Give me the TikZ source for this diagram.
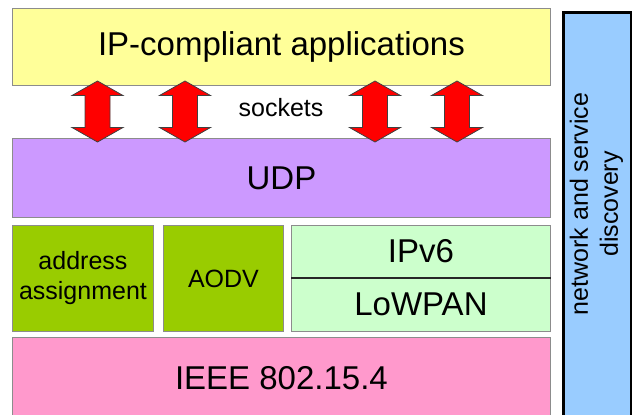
\documentclass[tikz,border=0pt]{standalone}
\usepackage{fontspec}
\setmainfont{Liberation Sans}
\definecolor{appyellow}{HTML}{FFFF99}
\definecolor{udppurple}{HTML}{CC99FF}
\definecolor{routegreen}{HTML}{99CC00}
\definecolor{netgreen}{HTML}{CCFFCC}
\definecolor{macpink}{HTML}{FF99CC}
\definecolor{discblue}{HTML}{99CCFF}
\newcommand{\bigtext}{\fontsize{33}{38}\selectfont}
\newcommand{\smalltext}{\fontsize{25}{30}\selectfont}
\begin{document}
\begin{tikzpicture}[x=1pt,y=-1pt,
  layer/.style={draw=black!45, line width=0.9pt, inner sep=0pt, anchor=north west, font=\bigtext},
  sublayer/.style={layer, font=\smalltext, align=center},
  sockarrow/.style={fill=red, draw=black!75, line width=0.8pt, line join=miter},
  label/.style={inner sep=0pt, font=\smalltext, align=center}]
\clip (0,0) rectangle (632,415);
% protocol layers
\node[layer, fill=appyellow, minimum width=538pt, minimum height=77pt] (app) at (12,8) {IP-compliant applications};
\node[layer, fill=udppurple, minimum width=538pt, minimum height=79pt] (udp) at (12,138) {UDP};
\node[sublayer, fill=routegreen, minimum width=141pt, minimum height=106pt] (addr) at (12,225) {address\\assignment};
\node[sublayer, fill=routegreen, minimum width=120pt, minimum height=106pt] (aodv) at (163,225) {AODV};
\node[layer, fill=netgreen, minimum width=259pt, minimum height=52pt] (ipv6) at (291,225) {IPv6};
\node[layer, fill=netgreen, minimum width=259pt, minimum height=54pt] (lowpan) at (291,277) {LoWPAN};
\draw[black!85, line width=1.2pt] (ipv6.south west) -- (ipv6.south east);
\node[layer, fill=macpink, minimum width=538pt, minimum height=82pt] (mac) at (12,337) {IEEE 802.15.4};
% cross-layer service column
\node[draw=black, line width=2.5pt, fill=discblue, anchor=north west, inner sep=0pt,
      minimum width=67.5pt, minimum height=440pt] (disc) at (562.25,11.25) {};
\node[label, rotate=90] (disclabel) at (596.5,204) {network and service\\discovery};
% socket interface
\node[label] (sockets) at (281,108) {sockets};
\foreach \cx in {97.5,185,375,457} {
  \draw[sockarrow] (\cx,81) -- ({\cx+25.5},95.5) -- ({\cx+12.5},95.5) -- ({\cx+12.5},127.5)
    -- ({\cx+25.5},127.5) -- (\cx,142) -- ({\cx-25.5},127.5) -- ({\cx-12.5},127.5)
    -- ({\cx-12.5},95.5) -- ({\cx-25.5},95.5) -- cycle;
}
\end{tikzpicture}
\end{document}
